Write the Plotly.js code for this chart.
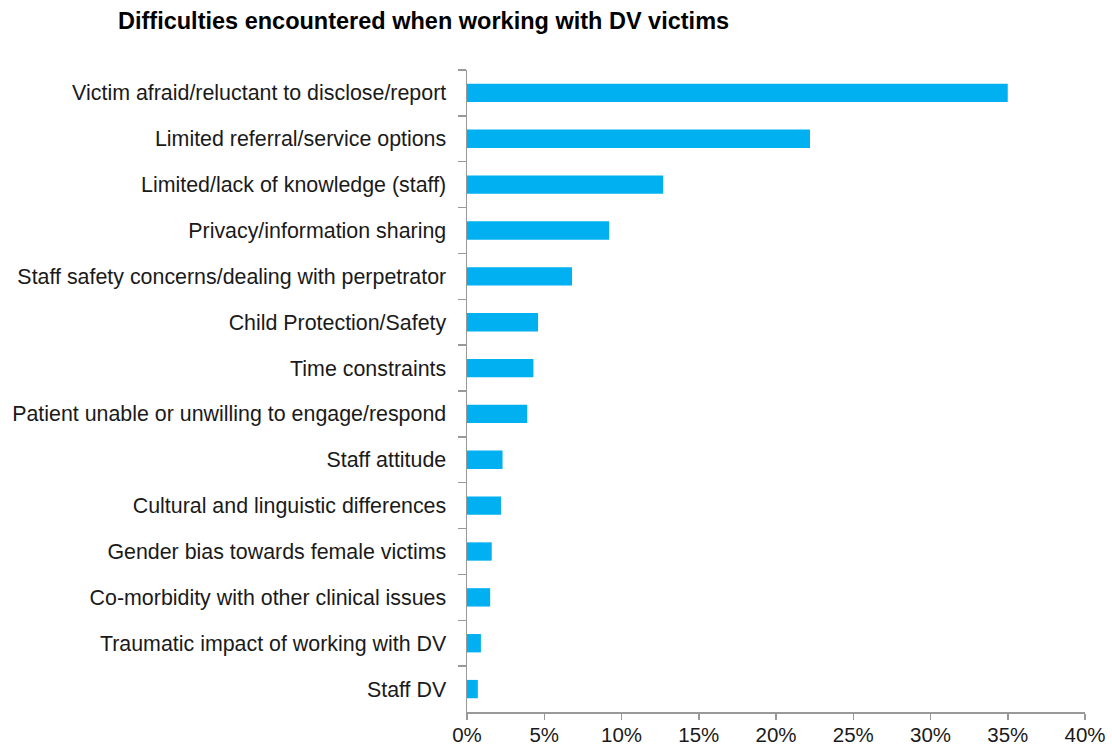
<!DOCTYPE html>
<html>
<head>
<meta charset="utf-8">
<script src="https://cdn.plot.ly/plotly-3.0.1.min.js"></script>
<style>html,body{margin:0;padding:0;background:#fff;}#chart{width:1112px;height:748px;}</style>
</head>
<body>
<div id="chart"></div>
<script>
const categories = [
  "Victim afraid/reluctant to disclose/report",
  "Limited referral/service options",
  "Limited/lack of knowledge (staff)",
  "Privacy/information sharing",
  "Staff safety concerns/dealing with perpetrator",
  "Child Protection/Safety",
  "Time constraints",
  "Patient unable or unwilling to engage/respond",
  "Staff attitude",
  "Cultural and linguistic differences",
  "Gender bias towards female victims",
  "Co-morbidity with other clinical issues",
  "Traumatic impact of working with DV",
  "Staff DV"
];
const values = [0.350, 0.222, 0.127, 0.092, 0.068, 0.046, 0.043, 0.039, 0.023, 0.022, 0.016, 0.015, 0.009, 0.007];
const tickVals = [0, 0.05, 0.10, 0.15, 0.20, 0.25, 0.30, 0.35, 0.40];
const tickText = ["0%", "5%", "10%", "15%", "20%", "25%", "30%", "35%", "40%"];

const data = [{
  type: 'bar',
  orientation: 'h',
  x: values,
  y: categories,
  marker: {color: '#00B0F0'},
  hoverinfo: 'x+y'
}];

const layout = {
  width: 1112, height: 748,
  paper_bgcolor: '#fff', plot_bgcolor: '#fff',
  margin: {l: 467, r: 27, t: 70, b: 36},
  bargap: 0.6,
  showlegend: false,
  font: {family: 'Liberation Sans, Arial, sans-serif', size: 21, color: '#1a1a1a'},
  title: {
    text: '<b>Difficulties encountered when working with DV victims</b>',
    font: {family: 'Liberation Sans, Arial, sans-serif', size: 23.5, color: '#000'},
    xref: 'container', yref: 'container',
    x: 118/1112, xanchor: 'left',
    y: 1 - 21/748, yanchor: 'middle'
  },
  xaxis: {
    range: [0, 0.40],
    tickvals: tickVals, ticktext: tickText,
    showgrid: false, zeroline: false,
    showline: true, linecolor: '#999', linewidth: 1.5,
    ticks: 'outside', ticklen: 6, tickcolor: '#999', tickwidth: 1.5,
    ticklabelstandoff: -2,
    tickfont: {size: 20.5, color: '#1a1a1a'},
    fixedrange: true
  },
  yaxis: {
    type: 'category',
    autorange: 'reversed',
    showgrid: false, zeroline: false,
    showline: true, linecolor: '#999', linewidth: 1.5,
    ticks: 'outside', ticklen: 8, tickcolor: '#999', tickwidth: 1.5,
    tickson: 'boundaries',
    ticklabelstandoff: 15,
    tickfont: {size: 21.4, color: '#1a1a1a'},
    fixedrange: true
  }
};

Plotly.newPlot('chart', data, layout, {displayModeBar: false, staticPlot: true});
</script>
</body>
</html>
